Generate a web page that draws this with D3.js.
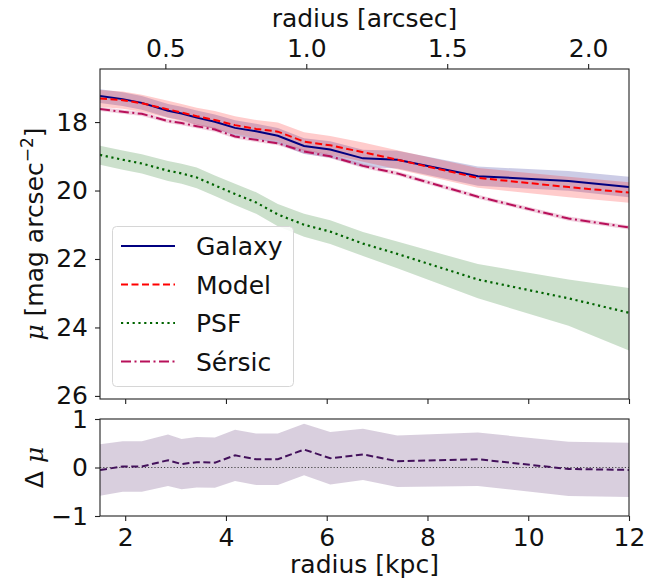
<!DOCTYPE html>
<html><head><meta charset="utf-8">
<script src="https://cdn.jsdelivr.net/npm/d3@7"></script>
<style>
body{margin:0;background:#fff;}
text{font-family:"DejaVu Sans",sans-serif;}
</style></head>
<body><svg id="c" width="670" height="580"></svg>
<script>
// ---- data ----
const radiusKpc = [1.5, 1.95, 2.33, 2.85, 3.12, 3.42, 3.78, 4.18, 4.6, 5.03, 5.55, 6.07, 6.72, 7.4, 9.0, 10.8, 12.0];
const galaxyMu  = [17.24, 17.33, 17.44, 17.67, 17.75, 17.87, 17.99, 18.17, 18.27, 18.40, 18.70, 18.80, 19.06, 19.10, 19.58, 19.72, 19.90];
const galaxyErr = [0.20, 0.20, 0.20, 0.20, 0.20, 0.21, 0.21, 0.22, 0.22, 0.23, 0.23, 0.24, 0.25, 0.26, 0.28, 0.29, 0.30];
const modelMu   = [17.31, 17.36, 17.45, 17.63, 17.72, 17.83, 17.94, 18.09, 18.20, 18.28, 18.57, 18.68, 18.88, 19.10, 19.63, 19.90, 20.06];
const modelErr  = [0.25, 0.25, 0.25, 0.25, 0.25, 0.25, 0.26, 0.26, 0.26, 0.27, 0.27, 0.27, 0.28, 0.28, 0.29, 0.30, 0.30];
const psfMu     = [18.96, 19.10, 19.21, 19.42, 19.50, 19.62, 19.85, 20.10, 20.35, 20.70, 21.00, 21.20, 21.55, 21.85, 22.60, 23.15, 23.57];
const psfErrUp  = [0.27, 0.27, 0.27, 0.28, 0.28, 0.29, 0.29, 0.30, 0.30, 0.31, 0.32, 0.33, 0.34, 0.36, 0.45, 0.55, 0.72];
const psfErrDn  = [0.29, 0.29, 0.29, 0.30, 0.30, 0.31, 0.31, 0.32, 0.33, 0.34, 0.35, 0.36, 0.36, 0.42, 0.55, 0.80, 1.10];
const sersicMu  = [17.62, 17.70, 17.76, 17.97, 18.03, 18.12, 18.22, 18.42, 18.52, 18.62, 18.86, 19.00, 19.28, 19.50, 20.18, 20.82, 21.08];
const sersicErr = [0.06, 0.06, 0.06, 0.06, 0.06, 0.06, 0.06, 0.06, 0.06, 0.06, 0.06, 0.06, 0.06, 0.06, 0.06, 0.06, 0.06];
const residMu   = [-0.05, 0.02, 0.02, 0.15, 0.07, 0.11, 0.10, 0.25, 0.17, 0.17, 0.37, 0.19, 0.27, 0.13, 0.17, -0.03, -0.05];
const residErr  = [0.53, 0.52, 0.52, 0.53, 0.52, 0.52, 0.52, 0.53, 0.53, 0.53, 0.53, 0.54, 0.53, 0.53, 0.55, 0.56, 0.56];
const kpcTicks = [2, 4, 6, 8, 10, 12];
const arcsecTicks = [0.5, 1.0, 1.5, 2.0];
const muTicks = [18, 20, 22, 24, 26];
const dmuTicks = [-1, 0, 1];
const arcsecPerKpc = 0.17875;
const legendNames = ["Galaxy", "Model", "PSF", "Sérsic"];

// ---- layout ----
const L = 100, R = 629, T1 = 69, B1 = 399, T2 = 419, B2 = 516;
const svg = d3.select("#c");
const FS = 25;

const x = d3.scaleLinear().domain([1.5, 12]).range([L, R]);
const xa = d3.scaleLinear().domain([1.5 * arcsecPerKpc, 12 * arcsecPerKpc]).range([L, R]);
const y = d3.scaleLinear().domain([16.45, 26.09]).range([T1, B1]);
const y2 = d3.scaleLinear().domain([-1, 1]).range([B2, T2]);

const colors = {gal: "#000080", mod: "#ff0000", psf: "#006400", ser: "#b8105a", res: "#43115b"};

const defs = svg.append("defs");
defs.append("clipPath").attr("id", "cp1").append("rect").attr("x", L).attr("y", T1).attr("width", R - L).attr("height", B1 - T1);
defs.append("clipPath").attr("id", "cp2").append("rect").attr("x", L).attr("y", T2).attr("width", R - L).attr("height", B2 - T2);

const idx = d3.range(radiusKpc.length);
function band(vals, lo, hi, yy) {
  return d3.area().x(i => x(radiusKpc[i])).y0(i => yy(vals[i] + lo[i])).y1(i => yy(vals[i] - hi[i]))(idx);
}
function line(vals, yy) {
  return d3.line().x(i => x(radiusKpc[i])).y(i => yy(vals[i]))(idx);
}

const g1 = svg.append("g").attr("clip-path", "url(#cp1)");
g1.append("path").attr("d", band(galaxyMu, galaxyErr, galaxyErr, y)).attr("fill", colors.gal).attr("fill-opacity", 0.2);
g1.append("path").attr("d", band(modelMu, modelErr, modelErr, y)).attr("fill", colors.mod).attr("fill-opacity", 0.2);
g1.append("path").attr("d", band(psfMu, psfErrDn, psfErrUp, y)).attr("fill", colors.psf).attr("fill-opacity", 0.2);
g1.append("path").attr("d", band(sersicMu, sersicErr, sersicErr, y)).attr("fill", colors.ser).attr("fill-opacity", 0.2);

g1.append("path").attr("d", line(galaxyMu, y)).attr("fill", "none").attr("stroke", colors.gal).attr("stroke-width", 2);
g1.append("path").attr("d", line(modelMu, y)).attr("fill", "none").attr("stroke", colors.mod).attr("stroke-width", 2).attr("stroke-dasharray", "7,3.5");
g1.append("path").attr("d", line(psfMu, y)).attr("fill", "none").attr("stroke", colors.psf).attr("stroke-width", 2.2).attr("stroke-dasharray", "2.2,3.6");
g1.append("path").attr("d", line(sersicMu, y)).attr("fill", "none").attr("stroke", colors.ser).attr("stroke-width", 2).attr("stroke-dasharray", "10,3.5,2,3.5");

// bottom panel
const g2 = svg.append("g").attr("clip-path", "url(#cp2)");
g2.append("path").attr("d", band(residMu, residErr, residErr, y2)).attr("fill", colors.res).attr("fill-opacity", 0.2);
g2.append("line").attr("x1", L).attr("x2", R).attr("y1", y2(0)).attr("y2", y2(0))
  .attr("stroke", "#444").attr("stroke-width", 1.2).attr("stroke-dasharray", "1.2,2");
g2.append("path").attr("d", line(residMu, y2)).attr("fill", "none").attr("stroke", colors.res).attr("stroke-width", 2).attr("stroke-dasharray", "7,3.5");

// frames
[[T1, B1], [T2, B2]].forEach(([t, b]) => {
  svg.append("rect").attr("x", L).attr("y", t).attr("width", R - L).attr("height", b - t)
    .attr("fill", "none").attr("stroke", "#222").attr("stroke-width", 1.1);
});

function styleAxis(g) {
  g.select(".domain").remove();
  g.selectAll(".tick line").attr("stroke", "#222").attr("stroke-width", 1.1);
  g.selectAll(".tick text").attr("font-size", FS).attr("fill", "#111").attr("font-family", "DejaVu Sans");
}

svg.append("g").attr("transform", `translate(0,${T1})`)
  .call(d3.axisTop(xa).tickValues(arcsecTicks).tickFormat(d3.format(".1f")).tickSize(5).tickPadding(7)).call(styleAxis);
svg.append("g").attr("transform", `translate(0,${B1})`)
  .call(d3.axisBottom(x).tickValues(kpcTicks).tickFormat("").tickSize(5)).call(styleAxis);
svg.append("g").attr("transform", `translate(0,${B2})`)
  .call(d3.axisBottom(x).tickValues(kpcTicks).tickFormat(d3.format("d")).tickSize(5).tickPadding(7)).call(styleAxis);
svg.append("g").attr("transform", `translate(${L},0)`)
  .call(d3.axisLeft(y).tickValues(muTicks).tickFormat(d3.format("d")).tickSize(5).tickPadding(7)).call(styleAxis);
svg.append("g").attr("transform", `translate(${L},0)`)
  .call(d3.axisLeft(y2).tickValues(dmuTicks).tickFormat(d => d < 0 ? "\u2212" + Math.abs(d) : d).tickSize(5).tickPadding(7)).call(styleAxis);

// axis labels
svg.append("text").attr("x", (L + R) / 2).attr("y", 27).attr("text-anchor", "middle").attr("font-size", FS).attr("fill", "#111").text("radius [arcsec]");
svg.append("text").attr("x", (L + R) / 2).attr("y", 573).attr("text-anchor", "middle").attr("font-size", FS).attr("fill", "#111").text("radius [kpc]");

const yl = svg.append("text").attr("transform", `translate(43,${(T1 + B1) / 2}) rotate(-90)`)
  .attr("text-anchor", "middle").attr("font-size", FS).attr("fill", "#111");
yl.append("tspan").attr("font-style", "italic").attr("font-family", "DejaVu Serif").text("μ");
yl.append("tspan").text(" [mag arcsec");
yl.append("tspan").attr("font-size", 17).attr("dy", -10).text("−2");
yl.append("tspan").attr("dy", 10).text("]");

const yl2 = svg.append("text").attr("transform", `translate(43,${(T2 + B2) / 2}) rotate(-90)`)
  .attr("text-anchor", "middle").attr("font-size", FS).attr("fill", "#111");
yl2.append("tspan").text("Δ ");
yl2.append("tspan").attr("font-style", "italic").attr("font-family", "DejaVu Serif").text("μ");

// legend
const lg = svg.append("g");
lg.append("rect").attr("x", 112.5).attr("y", 226.5).attr("width", 181).attr("height", 160).attr("rx", 4)
  .attr("fill", "#fff").attr("fill-opacity", 0.85).attr("stroke", "#d6d6d6").attr("stroke-width", 1);
const legStyles = [
  {c: colors.gal, d: null, w: 2},
  {c: colors.mod, d: "7,3.5", w: 2},
  {c: colors.psf, d: "2.2,3.6", w: 2.2},
  {c: colors.ser, d: "10,3.5,2,3.5", w: 2}
];
legendNames.forEach((n, i) => {
  const yy = 246 + i * 38.5;
  const s = legStyles[i];
  const ln = lg.append("line").attr("x1", 121).attr("x2", 175).attr("y1", yy).attr("y2", yy)
    .attr("stroke", s.c).attr("stroke-width", s.w);
  if (s.d) ln.attr("stroke-dasharray", s.d);
  lg.append("text").attr("x", 196).attr("y", yy + 9).attr("font-size", FS).attr("fill", "#111").text(n);
});
</script></body></html>
